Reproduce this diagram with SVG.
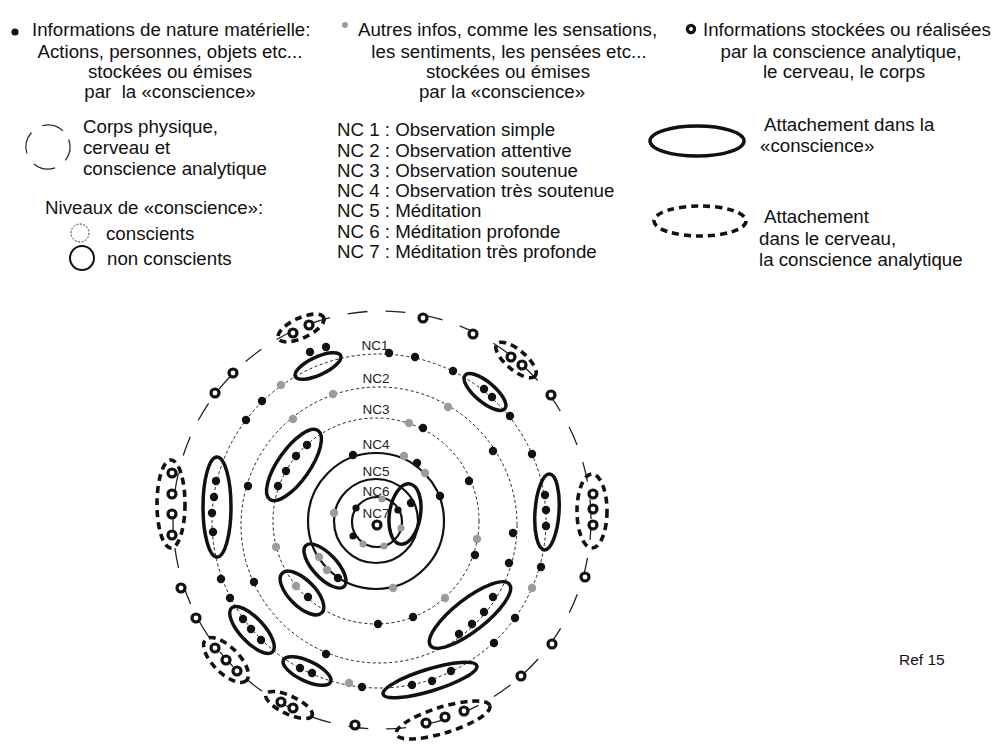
<svg xmlns="http://www.w3.org/2000/svg" width="999" height="747" viewBox="0 0 999 747">
<style>
.t{font-family:"Liberation Sans",Arial,sans-serif;font-size:18.7px;fill:#111}
.nc{font-family:"Liberation Sans",Arial,sans-serif;font-size:13.5px;fill:#222;text-anchor:middle}
.m{text-anchor:middle}
.b{fill:#111}
.g{fill:#9c9c9c}
.o{fill:#fff;stroke:#111;stroke-width:3.2}
.el{fill:none;stroke:#111;stroke-width:3.5}
.de{fill:none;stroke:#111;stroke-width:3.6;stroke-dasharray:7 5}
.dr{fill:none;stroke:#222;stroke-width:1;stroke-dasharray:3 2.5}
.sr{fill:none;stroke:#111;stroke-width:2.2}
.outer{fill:none;stroke:#222;stroke-width:1.3;stroke-dasharray:20 18}
</style>
<rect width="999" height="747" fill="#fff"/>

<g id="legend-materielle">
<circle class="b" cx="15" cy="32" r="3.6"/>
<text class="t" x="32" y="36">Informations de nature matérielle:</text>
<text class="t m" x="170" y="58">Actions, personnes, objets etc...</text>
<text class="t m" x="170" y="78">stockées ou émises</text>
<text class="t m" x="170" y="98" xml:space="preserve">par  la «conscience»</text>
</g>
<g id="legend-autres">
<circle class="g" cx="345" cy="25" r="3"/>
<text class="t" x="358" y="36">Autres infos, comme les sensations,</text>
<text class="t m" x="509" y="58">les sentiments, les pensées etc...</text>
<text class="t m" x="508" y="78">stockées ou émises</text>
<text class="t m" x="502" y="98">par la «conscience»</text>
</g>
<g id="legend-analytique">
<circle class="o" cx="691" cy="29" r="3.6"/>
<text class="t" x="703" y="36">Informations stockées ou réalisées</text>
<text class="t m" x="841" y="58">par la conscience analytique,</text>
<text class="t m" x="844" y="78">le cerveau, le corps</text>
</g>
<g id="legend-corps">
<circle cx="48" cy="147" r="22" fill="none" stroke="#222" stroke-width="1.2" stroke-dasharray="22 13" transform="rotate(-20 48 147)"/>
<text class="t" x="83" y="133">Corps physique,</text>
<text class="t" x="83" y="154">cerveau et</text>
<text class="t" x="83" y="175">conscience analytique</text>
</g>
<g id="legend-niveaux">
<text class="t" x="45" y="214">Niveaux de «conscience»:</text>
<circle cx="80" cy="233" r="9" fill="none" stroke="#333" stroke-width="1" stroke-dasharray="2 1.5"/>
<text class="t" x="106" y="240">conscients</text>
<circle cx="82" cy="258" r="12" fill="none" stroke="#111" stroke-width="2"/>
<text class="t" x="107" y="265">non conscients</text>
</g>
<g id="legend-nc">
<text class="t" x="337" y="136">NC 1 : Observation simple</text>
<text class="t" x="337" y="157">NC 2 : Observation attentive</text>
<text class="t" x="337" y="177">NC 3 : Observation soutenue</text>
<text class="t" x="337" y="197">NC 4 : Observation très soutenue</text>
<text class="t" x="337" y="217">NC 5 : Méditation</text>
<text class="t" x="337" y="238">NC 6 : Méditation profonde</text>
<text class="t" x="337" y="258">NC 7 : Méditation très profonde</text>
</g>
<g id="legend-attachement">
<ellipse class="el" cx="697" cy="141" rx="47" ry="15"/>
<text class="t" x="764" y="131">Attachement dans la</text>
<text class="t" x="760" y="152">«conscience»</text>
<ellipse class="de" cx="700" cy="221" rx="46" ry="15"/>
<text class="t" x="764" y="223">Attachement</text>
<text class="t" x="759" y="245">dans le cerveau,</text>
<text class="t" x="759" y="266">la conscience analytique</text>
</g>
<text class="t" x="899" y="665" style="font-size:15.5px">Ref 15</text>

<g id="rings">
<circle class="outer" cx="382" cy="520" r="209"/>
<circle class="dr" cx="379" cy="521" r="167"/>
<circle class="dr" cx="379" cy="525" r="138"/>
<circle class="dr" cx="376" cy="521" r="103"/>
<circle class="sr" cx="376" cy="521" r="68"/>
<circle class="sr" cx="376" cy="521" r="42"/>
<circle class="sr" cx="377" cy="522" r="25"/>
</g>
<g id="ring-labels">
<text class="nc" x="375" y="350">NC1</text>
<text class="nc" x="376" y="383">NC2</text>
<text class="nc" x="376" y="414">NC3</text>
<text class="nc" x="376" y="449">NC4</text>
<text class="nc" x="376" y="476">NC5</text>
<text class="nc" x="376" y="496">NC6</text>
<text class="nc" x="376" y="518">NC7</text>
</g>
<circle id="nc7-centre" cx="377" cy="525" r="4" fill="#fff" stroke="#111" stroke-width="3.2"/>

<g id="attachements-conscience">
<ellipse class="el" cx="318" cy="366" rx="25" ry="9" transform="rotate(-25 318 366)"/>
<ellipse class="el" cx="485" cy="392" rx="26" ry="10" transform="rotate(40 485 392)"/>
<ellipse class="el" cx="547" cy="512" rx="12" ry="38" transform="rotate(4 547 512)"/>
<ellipse class="el" cx="217" cy="507" rx="14" ry="50"/>
<ellipse class="el" cx="252" cy="630" rx="30" ry="12" transform="rotate(47 252 630)"/>
<ellipse class="el" cx="307" cy="671" rx="26" ry="10" transform="rotate(25 307 671)"/>
<ellipse class="el" cx="430" cy="680" rx="49" ry="11" transform="rotate(-17 430 680)"/>
<ellipse class="el" cx="470" cy="615" rx="50" ry="16" transform="rotate(-38 470 615)"/>
<ellipse class="el" cx="294" cy="465" rx="16" ry="42" transform="rotate(35 294 465)"/>
<ellipse class="el" cx="302" cy="593" rx="28" ry="13" transform="rotate(45 302 593)"/>
<ellipse class="el" cx="325" cy="566" rx="28" ry="12" transform="rotate(47 325 566)"/>
<ellipse class="el" cx="405" cy="514" rx="15.5" ry="30.5" transform="rotate(9 405 514)"/>
</g>

<g id="attachements-cerveau">
<ellipse class="de" cx="301" cy="328" rx="25" ry="10" transform="rotate(-25 301 328)"/>
<ellipse class="de" cx="516" cy="360" rx="25" ry="10" transform="rotate(40 516 360)"/>
<ellipse class="de" cx="592" cy="511" rx="15" ry="37"/>
<ellipse class="de" cx="171" cy="504" rx="14" ry="44"/>
<ellipse class="de" cx="226" cy="660" rx="29" ry="13" transform="rotate(45 226 660)"/>
<ellipse class="de" cx="289" cy="705" rx="25.5" ry="9" transform="rotate(25 289 705)"/>
<ellipse class="de" cx="443" cy="720" rx="49" ry="13" transform="rotate(-17 443 720)"/>
</g>

<g id="infos-analytiques">
<circle class="o" cx="423" cy="318" r="4"/>
<circle class="o" cx="473" cy="334" r="4"/>
<circle class="o" cx="551" cy="395" r="4"/>
<circle class="o" cx="585" cy="577" r="4"/>
<circle class="o" cx="552" cy="644" r="4"/>
<circle class="o" cx="521" cy="676" r="4"/>
<circle class="o" cx="355" cy="725" r="4"/>
<circle class="o" cx="196" cy="618" r="4"/>
<circle class="o" cx="181" cy="588" r="4"/>
<circle class="o" cx="215" cy="393" r="4"/>
<circle class="o" cx="233" cy="373" r="4"/>
<circle class="o" cx="293" cy="333" r="4"/>
<circle class="o" cx="309" cy="325" r="4"/>
<circle class="o" cx="511" cy="357" r="4"/>
<circle class="o" cx="522" cy="365" r="4"/>
<circle class="o" cx="593" cy="494" r="4"/>
<circle class="o" cx="593" cy="509" r="4"/>
<circle class="o" cx="593" cy="525" r="4"/>
<circle class="o" cx="172" cy="473" r="4"/>
<circle class="o" cx="172" cy="494" r="4"/>
<circle class="o" cx="172" cy="514" r="4"/>
<circle class="o" cx="172" cy="535" r="4"/>
<circle class="o" cx="215" cy="648" r="4"/>
<circle class="o" cx="226" cy="660" r="4"/>
<circle class="o" cx="237" cy="671" r="4"/>
<circle class="o" cx="281" cy="702" r="4"/>
<circle class="o" cx="293" cy="708" r="4"/>
<circle class="o" cx="426" cy="723" r="4"/>
<circle class="o" cx="445" cy="717" r="4"/>
<circle class="o" cx="464" cy="711" r="4"/>
</g>

<g id="infos-materielles">
<circle class="b" cx="310" cy="352" r="4.2"/>
<circle class="b" cx="326" cy="347" r="4.2"/>
<circle class="b" cx="389" cy="353" r="4.2"/>
<circle class="b" cx="415" cy="357" r="4.2"/>
<circle class="b" cx="453" cy="371" r="4.2"/>
<circle class="b" cx="484" cy="389" r="4.2"/>
<circle class="b" cx="492" cy="397" r="4.2"/>
<circle class="b" cx="510" cy="416" r="4.2"/>
<circle class="b" cx="532" cy="454" r="4.2"/>
<circle class="b" cx="545" cy="495" r="4.2"/>
<circle class="b" cx="546" cy="510" r="4.2"/>
<circle class="b" cx="546" cy="526" r="4.2"/>
<circle class="b" cx="541" cy="567" r="4.2"/>
<circle class="b" cx="515" cy="618" r="4.2"/>
<circle class="b" cx="494" cy="643" r="4.2"/>
<circle class="b" cx="451" cy="671" r="4.2"/>
<circle class="b" cx="432" cy="681" r="4.2"/>
<circle class="b" cx="412" cy="685" r="4.2"/>
<circle class="b" cx="362" cy="687" r="4.2"/>
<circle class="b" cx="312" cy="673" r="4.2"/>
<circle class="b" cx="300" cy="668" r="4.2"/>
<circle class="b" cx="261" cy="640" r="4.2"/>
<circle class="b" cx="251" cy="629" r="4.2"/>
<circle class="b" cx="243" cy="619" r="4.2"/>
<circle class="b" cx="230" cy="598" r="4.2"/>
<circle class="b" cx="221" cy="579" r="4.2"/>
<circle class="b" cx="213" cy="532" r="4.2"/>
<circle class="b" cx="212" cy="513" r="4.2"/>
<circle class="b" cx="214" cy="497" r="4.2"/>
<circle class="b" cx="216" cy="481" r="4.2"/>
<circle class="b" cx="246" cy="420" r="4.2"/>
<circle class="b" cx="262" cy="401" r="4.2"/>
<circle class="b" cx="493" cy="451" r="4.2"/>
<circle class="b" cx="513" cy="533" r="4.2"/>
<circle class="b" cx="509" cy="563" r="4.2"/>
<circle class="b" cx="493" cy="597" r="4.2"/>
<circle class="b" cx="484" cy="612" r="4.2"/>
<circle class="b" cx="472" cy="624" r="4.2"/>
<circle class="b" cx="459" cy="634" r="4.2"/>
<circle class="b" cx="326" cy="654" r="4.2"/>
<circle class="b" cx="254" cy="582" r="4.2"/>
<circle class="b" cx="248" cy="486" r="4.2"/>
<circle class="b" cx="423" cy="428" r="4.2"/>
<circle class="b" cx="469" cy="481" r="4.2"/>
<circle class="b" cx="475" cy="555" r="4.2"/>
<circle class="b" cx="413" cy="617" r="4.2"/>
<circle class="b" cx="378" cy="624" r="4.2"/>
<circle class="b" cx="308" cy="597" r="4.2"/>
<circle class="b" cx="307" cy="445" r="4.2"/>
<circle class="b" cx="296" cy="456" r="4.2"/>
<circle class="b" cx="286" cy="471" r="4.2"/>
<circle class="b" cx="278" cy="486" r="4.2"/>
<circle class="b" cx="353" cy="455" r="4.2"/>
<circle class="b" cx="417" cy="463" r="4.2"/>
<circle class="b" cx="440" cy="496" r="4.2"/>
<circle class="b" cx="338" cy="578" r="4.2"/>
<circle class="b" cx="411" cy="503" r="4.2"/>
<circle class="b" cx="356" cy="508" r="3.6"/>
<circle class="b" cx="398" cy="510" r="3.6"/>
<circle class="b" cx="353" cy="536" r="3.6"/>
</g>

<g id="infos-autres">
<circle class="g" cx="281" cy="385" r="4.2"/>
<circle class="g" cx="532" cy="588" r="4.2"/>
<circle class="g" cx="349" cy="683" r="4.2"/>
<circle class="g" cx="333" cy="394" r="4.2"/>
<circle class="g" cx="293" cy="419" r="4.2"/>
<circle class="g" cx="448" cy="407" r="4.2"/>
<circle class="g" cx="409" cy="423" r="4.2"/>
<circle class="g" cx="477" cy="539" r="4.2"/>
<circle class="g" cx="445" cy="598" r="4.2"/>
<circle class="g" cx="296" cy="586" r="4.2"/>
<circle class="g" cx="276" cy="547" r="4.2"/>
<circle class="g" cx="404" cy="456" r="4.2"/>
<circle class="g" cx="425" cy="473" r="4.2"/>
<circle class="g" cx="393" cy="588" r="4.2"/>
<circle class="g" cx="319" cy="557" r="4.2"/>
<circle class="g" cx="327" cy="570" r="4.2"/>
<circle class="g" cx="334" cy="513" r="4.2"/>
<circle class="g" cx="382" cy="499" r="3.6"/>
<circle class="g" cx="401" cy="528" r="3.6"/>
<circle class="g" cx="363" cy="544" r="3.6"/>
<circle class="g" cx="384" cy="546" r="3.6"/>
</g>
</svg>
